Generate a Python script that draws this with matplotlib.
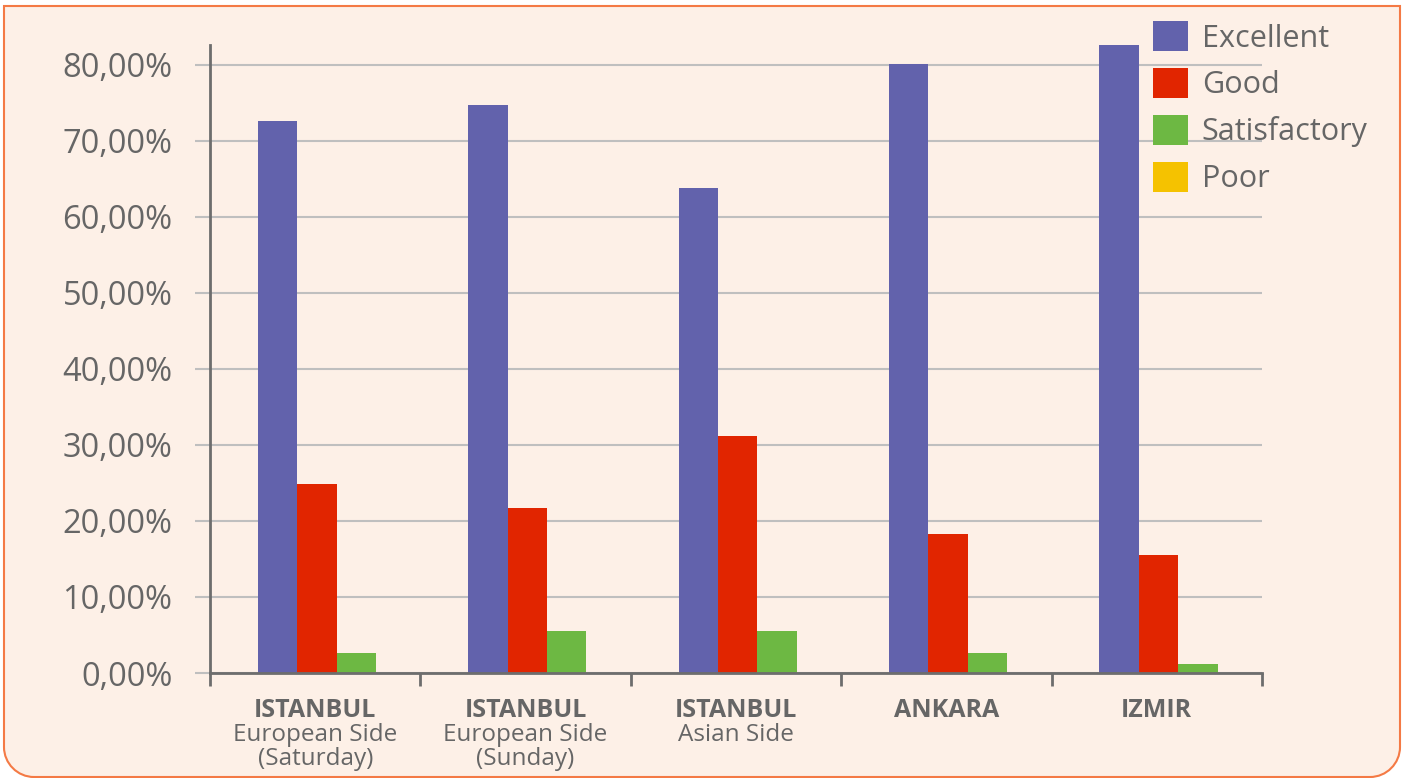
import numpy as np
import matplotlib
matplotlib.use("Agg")
from matplotlib import pyplot as plt
from matplotlib.path import Path
from matplotlib.patches import PathPatch
from matplotlib.ticker import FixedLocator

plt.rcParams['font.family'] = ['Open Sans', 'DejaVu Sans']

# donnees
cities = ["ISTANBUL", "ISTANBUL", "ISTANBUL", "ANKARA", "IZMIR"]
subtitles = ["European Side\n(Saturday)", "European Side\n(Sunday)", "Asian Side", "", ""]
series = ["Excellent", "Good", "Satisfactory", "Poor"]
excellent = [72.6, 74.7, 63.8, 80.1, 82.8]
good = [24.9, 21.7, 31.2, 18.3, 15.5]
satisfactory = [2.6, 5.5, 5.5, 2.6, 1.2]
poor = [0, 0, 0, 0, 0]
colors = ["#6262ac", "#e12500", "#6db843", "#f5c200"]
yticks = [0, 10, 20, 30, 40, 50, 60, 70, 80]

W, H = 1405, 778
fig = plt.figure(figsize=(W / 100, H / 100), dpi=100)
fig.patch.set_facecolor("white")

# cadre avec coins arrondis en bas
x0, x1, y0, y1, r = 4 / W, 1400 / W, 1 / H, 1 - 6 / H, 30
rx, ry = r / W, r / H
k = 0.55
verts = [(x0, y1), (x0, y0 + ry),
         (x0, y0 + ry * (1 - k)), (x0 + rx * (1 - k), y0), (x0 + rx, y0),
         (x1 - rx, y0),
         (x1 - rx * (1 - k), y0), (x1, y0 + ry * (1 - k)), (x1, y0 + ry),
         (x1, y1), (x0, y1)]
codes = [Path.MOVETO, Path.LINETO,
         Path.CURVE4, Path.CURVE4, Path.CURVE4,
         Path.LINETO,
         Path.CURVE4, Path.CURVE4, Path.CURVE4,
         Path.LINETO, Path.CLOSEPOLY]
frame = PathPatch(Path(verts, codes), transform=fig.transFigure,
                  facecolor="#fdf0e7", edgecolor="#f47a45", lw=1.5, zorder=-10)
fig.patches.append(frame)

ax = fig.add_axes([210 / W, 1 - 673 / H, (1262 - 210) / W, (673 - 45) / H])
ax.set_facecolor("none")

x = np.arange(len(cities))
w = 0.1875
data = [excellent, good, satisfactory, poor]
for i, (vals, c, name) in enumerate(zip(data, colors, series)):
    ax.bar(x + (i - 1) * w + 0.008, vals, w, color=c, label=name, zorder=3)

ax.set_xlim(-0.5, len(cities) - 0.5)
ax.set_ylim(0, 82.6)
ax.set_yticks(yticks)
ax.set_yticklabels(["%d,00%%" % v for v in yticks])
ax.grid(axis="y", color="#bfbfbf", lw=1.5, zorder=0)
ax.tick_params(axis="y", length=11, width=1.5, color="#bfbfbf", pad=16,
               labelsize=23.5, labelcolor="#666666")

ax.set_xticks([])
ax.xaxis.set_minor_locator(FixedLocator(np.arange(-0.5, len(cities), 1)))
ax.tick_params(axis="x", which="minor", length=9, width=2, color="#6d6d6d")

for s in ["top", "right"]:
    ax.spines[s].set_visible(False)
ax.spines["left"].set_color("#6d6d6d")
ax.spines["left"].set_linewidth(2)
ax.spines["bottom"].set_color("#6d6d6d")
ax.spines["bottom"].set_linewidth(2)
ax.spines["bottom"].set_zorder(4)

trans = ax.get_xaxis_transform()
for i in range(len(cities)):
    ax.text(x[i], -0.06, cities[i], transform=trans, ha="center", va="center",
            fontsize=18, fontweight="bold", color="#666666")
    if subtitles[i]:
        ax.text(x[i], -0.08, subtitles[i], transform=trans, ha="center", va="top",
                fontsize=17.5, color="#666666", linespacing=0.98)

leg = ax.legend(loc="upper left", bbox_to_anchor=(1153 / W, 1 - 21 / H),
                bbox_transform=fig.transFigure, frameon=False, fontsize=22,
                handlelength=1.15, handleheight=1.15, labelspacing=0.47,
                handletextpad=0.45, borderpad=0, borderaxespad=0)
for t in leg.get_texts():
    t.set_color("#666666")

plt.savefig("out.png", dpi=100, facecolor=fig.get_facecolor())
